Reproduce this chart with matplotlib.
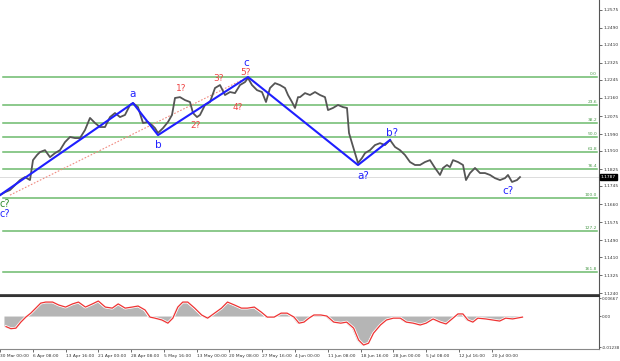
import matplotlib
matplotlib.use("Agg")
import matplotlib.pyplot as plt

# price path (bar index, close)
bar_x = [0, 5, 10, 15, 20, 25, 30, 33, 37, 40, 45, 50, 55, 60, 65, 70, 75, 80, 85, 90,
         95, 100, 105, 110, 115, 120, 125, 130, 133, 138, 143, 148, 152, 155, 158, 163,
         168, 172, 175, 180, 185, 190, 193, 197, 200, 205, 210, 215, 220, 225, 230, 235,
         240, 245, 248, 252, 257, 262, 266, 270, 275, 280, 285, 288, 292, 295, 298, 300,
         305, 310, 315, 320, 325, 328, 333, 338, 343, 347, 349, 352, 355, 358, 362, 365,
         370, 375, 380, 385, 390, 395, 400, 405, 410, 415, 420, 425, 430, 435, 440, 443,
         447, 450, 453, 458, 463, 466, 470, 475, 480, 485, 490, 495, 500, 505, 508, 512,
         517, 520]
close = [1.1702, 1.1716, 1.1726, 1.1749, 1.1773, 1.1787, 1.1773, 1.1867, 1.1891, 1.1905,
         1.1914, 1.1881, 1.1900, 1.1914, 1.1952, 1.1976, 1.1971, 1.1971, 1.2009, 1.2066,
         1.2042, 1.2023, 1.2023, 1.2070, 1.2089, 1.2070, 1.2080, 1.2127, 1.2136, 1.2117,
         1.2042, 1.2047, 1.2032, 1.2018, 1.1995, 1.2018, 1.2047, 1.2080, 1.2160, 1.2164,
         1.2150, 1.2141, 1.2089, 1.2070, 1.2080, 1.2127, 1.2141, 1.2207, 1.2221, 1.2174,
         1.2188, 1.2183, 1.2221, 1.2235, 1.2254, 1.2221, 1.2197, 1.2188, 1.2141, 1.2207,
         1.2230, 1.2221, 1.2207, 1.2174, 1.2141, 1.2113, 1.2164, 1.2164, 1.2183, 1.2174,
         1.2188, 1.2174, 1.2164, 1.2103, 1.2113, 1.2127, 1.2117, 1.2113, 1.1995, 1.1947,
         1.1900, 1.1853, 1.1877, 1.1900, 1.1914, 1.1938, 1.1947, 1.1938, 1.1962, 1.1929,
         1.1914, 1.1891, 1.1858, 1.1844, 1.1844, 1.1858, 1.1867, 1.1830, 1.1797, 1.1830,
         1.1844, 1.1834, 1.1867, 1.1858, 1.1844, 1.1773, 1.1806, 1.1830, 1.1806, 1.1806,
         1.1797, 1.1782, 1.1773, 1.1782, 1.1797, 1.1764, 1.1773, 1.1787]
last_price = 1.1787

# wave markup
wave_x = [0, 133, 158, 248, 358, 390]
wave_p = [1.1702, 1.2136, 1.1985, 1.2259, 1.1844, 1.1962]
chan_x = [10, 248]
chan_p = [1.1702, 1.2259]

# fibo levels
fib_names = ["0.0", "23.6", "38.2", "50.0", "61.8", "76.4", "100.0", "127.2", "161.8"]
fib_p = [1.2259, 1.2127, 1.2042, 1.1976, 1.1905, 1.1825, 1.1687, 1.1533, 1.1340]

price_ticks = [1.2575, 1.2490, 1.2410, 1.2325, 1.2245, 1.2160, 1.2075, 1.1990, 1.1910,
               1.1825, 1.1745, 1.1660, 1.1575, 1.1490, 1.1410, 1.1325, 1.1240]

# indicator (x 1e-3)
ind_x = [0, 5, 10, 15, 20, 25, 30, 35, 40, 47, 53, 60, 67, 73, 80, 87, 93, 100, 107, 113,
         120, 127, 133, 140, 145, 150, 157, 163, 168, 173, 178, 183, 190, 197, 203, 210,
         217, 223, 230, 237, 243, 250, 257, 263, 270, 277, 283, 290, 295, 300, 305, 310,
         317, 323, 330, 337, 343, 350, 355, 360, 365, 370, 377, 383, 390, 397, 403, 410,
         417, 423, 430, 437, 443, 450, 455, 460, 465, 470, 475, 483, 490, 497, 503, 510, 520]
ind_v = [-4.0, -4.8, -4.6, -2.3, -0.4, 1.1, 3.0, 4.9, 5.3, 5.3, 4.2, 3.4, 4.6, 5.3, 3.4,
         4.6, 5.7, 3.4, 3.0, 4.6, 3.0, 3.4, 3.8, 2.3, -0.4, -0.8, -1.5, -2.7, -0.8, 3.4,
         5.3, 5.3, 3.0, 0.4, -0.8, 1.1, 3.0, 5.3, 4.2, 3.0, 3.0, 3.4, 1.5, -0.4, -0.4, 1.1,
         1.1, -0.4, -2.7, -2.3, -0.8, 0.4, 0.4, 0.0, -2.3, -2.7, -2.3, -4.6, -9.1, -11.0,
         -10.3, -6.5, -3.4, -1.5, -0.8, -0.8, -2.3, -2.7, -3.4, -2.7, -1.1, -2.3, -3.0,
         -0.8, 0.8, 0.8, -1.5, -2.3, -0.8, -1.1, -1.5, -1.9, -0.8, -1.1, -0.4]

date_x = [-4, 29, 62, 95, 128, 161, 194, 227, 260, 293, 326, 359, 392, 425, 458, 491]
date_labels = ["30 Mar 00:00", "6 Apr 08:00", "13 Apr 16:00", "21 Apr 00:00",
               "28 Apr 08:00", "5 May 16:00", "13 May 00:00", "20 May 08:00",
               "27 May 16:00", "4 Jun 00:00", "11 Jun 08:00", "18 Jun 16:00",
               "28 Jun 00:00", "5 Jul 08:00", "12 Jul 16:00", "20 Jul 00:00"]

plt.rcParams['font.family'] = ['DejaVu Sans']
fig = plt.figure(figsize=(6.2, 3.61), dpi=100)
ax = fig.add_axes([0, 66/361, 599/620, 295/361])
ax2 = fig.add_axes([0, 12/361, 599/620, 53/361])

X0, X1 = 0, 599
ax.set_xlim(X0, X1)
ax.set_ylim(1.1231, 1.2622)

# fibo lines
fib_green = '#6cbb6c'
for name, p in zip(fib_names, fib_p):
    ax.plot([3, 597], [p, p], color=fib_green, lw=1.1, zorder=1)
    ax.text(597, p + 0.0004, name, color='#4a9a4a', fontsize=3.2, ha='right', va='bottom')

ax.axhline(last_price, color='#dcdcdc', lw=0.7, zorder=0)

ax.plot(bar_x, close, color='#555555', lw=1.3, zorder=3)
ax.plot(chan_x, chan_p, color='#f08a80', lw=0.8, ls=(0, (1.5, 1.5)), zorder=2)
ax.plot(wave_x, wave_p, color='#1f1fff', lw=1.5, zorder=4)

blue = '#2222ff'
red = '#ee4444'
for t, x, y, c, fs in [("a", 133, 1.2179, blue, 7.5), ("b", 158, 1.1938, blue, 7.5),
                       ("c", 246, 1.2325, blue, 7.5), ("1?", 181, 1.2207, red, 6.5),
                       ("2?", 196, 1.2028, red, 6.5), ("3?", 219, 1.2254, red, 6.5),
                       ("4?", 238, 1.2117, red, 6.5), ("5?", 246, 1.2282, red, 6.5),
                       ("a?", 363, 1.1792, blue, 7.5), ("b?", 392, 1.1995, blue, 7.5),
                       ("c?", 508, 1.1721, blue, 7.5), ("c?", 5, 1.1660, '#2e8b2e', 7),
                       ("c?", 5, 1.1615, blue, 7)]:
    ax.text(x, y, t, color=c, fontsize=fs, ha='center', va='center', zorder=5)

ax.yaxis.tick_right()
ax.set_yticks(price_ticks)
ax.set_yticklabels(["%.4f" % v for v in price_ticks])
ax.tick_params(axis='y', labelsize=3.2, length=2, width=0.5, pad=1.2, colors='#333333')
ax.set_xticks([])
for s in ['left', 'top']:
    ax.spines[s].set_visible(False)
ax.spines['right'].set_color('#555555')
ax.spines['bottom'].set_color('#333333')
ax.spines['bottom'].set_linewidth(1.2)

ax.text(X1 + 2, last_price, "%.4f" % last_price, color='white', fontsize=3.2,
        ha='left', va='center', clip_on=False,
        bbox=dict(boxstyle='square,pad=0.15', fc='black', ec='black'))

# indicator
ax2.set_xlim(X0, X1)
ax2.set_ylim(-12.5, 7.6)
ax2.fill_between(ind_x, 0, ind_v, color='#b5b5b5', lw=0, zorder=1)
ax2.plot([x + 2 for x in ind_x], ind_v, color='white', lw=2.0, zorder=2)
ax2.plot([x + 2 for x in ind_x], ind_v, color='#ee3333', lw=0.9, zorder=3)
ax2.yaxis.tick_right()
ax2.set_yticks([6.67, 0, -11.9])
ax2.set_yticklabels(["0.00667", "0.00", "-0.01238"])
ax2.tick_params(axis='y', labelsize=3.0, length=1.5, width=0.5, pad=0.8, colors='#333333')
ax2.set_xticks(date_x)
ax2.set_xticklabels(date_labels, ha='left')
ax2.tick_params(axis='x', labelsize=3.2, length=2, width=0.5, pad=1.5, colors='#333333')
ax2.spines['left'].set_visible(False)
ax2.spines['top'].set_color('#333333')
ax2.spines['top'].set_linewidth(1.5)
ax2.spines['right'].set_color('#555555')
ax2.spines['bottom'].set_color('#888888')

fig.savefig("out.png", dpi=100)
